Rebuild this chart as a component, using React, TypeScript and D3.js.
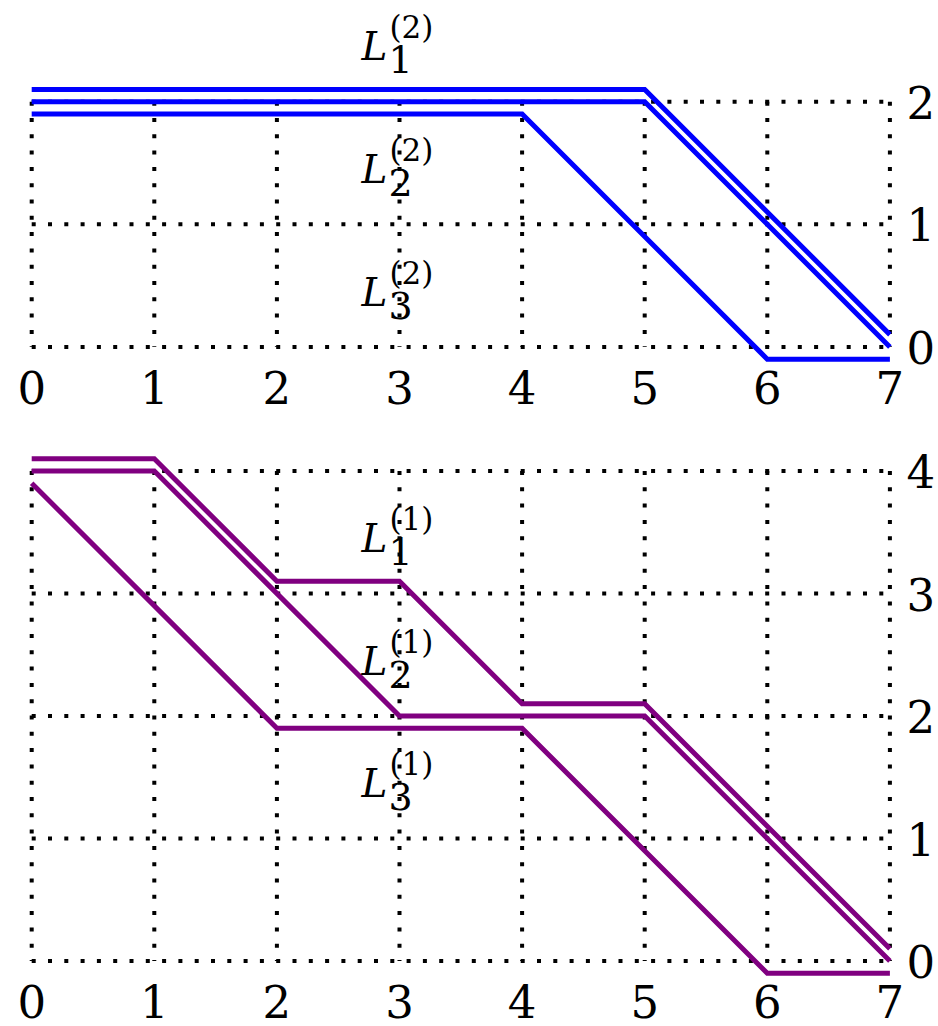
import React from "react";
import * as d3 from "d3";

// Shared horizontal axis
const xTicks = [0, 1, 2, 3, 4, 5, 6, 7];

// Upper panel (level 2 curves)
const topYTicks = [0, 1, 2];
const topL1x = [0, 5, 7];
const topL1y = [2.1, 2.1, 0.1];
const topL2x = [0, 5, 7];
const topL2y = [2, 2, 0];
const topL3x = [0, 4, 6, 7];
const topL3y = [1.9, 1.9, -0.1, -0.1];
const topLabels = [
  { sub: "1", sup: "(2)", x: 3, y: 2.5 },
  { sub: "2", sup: "(2)", x: 3, y: 1.5 },
  { sub: "3", sup: "(2)", x: 3, y: 0.5 },
];

// Lower panel (level 1 curves)
const bottomYTicks = [0, 1, 2, 3, 4];
const botL1x = [0, 1, 2, 3, 4, 5, 7];
const botL1y = [4.1, 4.1, 3.1, 3.1, 2.1, 2.1, 0.1];
const botL2x = [0, 1, 3, 5, 7];
const botL2y = [4, 4, 2, 2, 0];
const botL3x = [0, 2, 4, 6, 7];
const botL3y = [3.9, 1.9, 1.9, -0.1, -0.1];
const bottomLabels = [
  { sub: "1", sup: "(1)", x: 3, y: 3.5 },
  { sub: "2", sup: "(1)", x: 3, y: 2.5 },
  { sub: "3", sup: "(1)", x: 3, y: 1.5 },
];

const FONT = "DejaVu Serif";

type Pt = [number, number];
const zip = (xs: number[], ys: number[]): Pt[] => xs.map((x, i) => [x, ys[i]]);

interface PanelProps {
  y0: number; // pixel of value 0
  unit: number;
  yTicks: number[];
  series: Pt[][];
  labels: { sub: string; sup: string; x: number; y: number }[];
  color: string;
}

const X0 = 31.7;
const UNIT = 122.6;

function Panel({ y0, unit, yTicks, series, labels, color }: PanelProps) {
  const x = d3.scaleLinear().domain([0, 7]).range([X0, X0 + 7 * UNIT]);
  const yMax = d3.max(yTicks) as number;
  const y = d3.scaleLinear().domain([0, yMax]).range([y0, y0 - yMax * unit]);
  const line = d3
    .line<Pt>()
    .x((d) => x(d[0]))
    .y((d) => y(d[1]));
  const dotted = { stroke: "#000", strokeWidth: 4, strokeDasharray: "4 12.3", fill: "none" };
  return (
    <g>
      {yTicks.map((t) => (
        <line key={"h" + t} x1={x(0)} x2={x(7)} y1={y(t)} y2={y(t)} {...dotted} />
      ))}
      {xTicks.map((t) => (
        <line key={"v" + t} x1={x(t)} x2={x(t)} y1={y(yMax)} y2={y(0)} {...dotted} />
      ))}
      {series.map((s, i) => (
        <path key={"s" + i} d={line(s) || ""} fill="none" stroke={color} strokeWidth={5} />
      ))}
      {xTicks.map((t) => (
        <text key={"xt" + t} x={x(t)} y={y(0) + 57} textAnchor="middle" fontSize={45} fontFamily={FONT}>
          {t}
        </text>
      ))}
      {yTicks.map((t) => (
        <text key={"yt" + t} x={x(7) + 31} y={y(t) + 17} textAnchor="middle" fontSize={45} fontFamily={FONT}>
          {t}
        </text>
      ))}
      {labels.map((l, i) => {
        const cx = x(l.x);
        const cy = y(l.y);
        return (
          <g key={"lab" + i} fontFamily={FONT}>
            <text x={cx - 38} y={cy + 20} fontSize={39} fontStyle="italic">
              L
            </text>
            <text x={cx - 11} y={cy + 33} fontSize={38}>
              {l.sub}
            </text>
            <text x={cx - 10} y={cy - 2} fontSize={31}>
              {l.sup}
            </text>
          </g>
        );
      })}
    </g>
  );
}

export default function App() {
  return (
    <div>
      <style>{`body{margin:0;background:#fff}`}</style>
      <svg width={938} height={1026} style={{ display: "block", background: "#fff" }}>
        <Panel
          y0={346.9}
          unit={122.6}
          yTicks={topYTicks}
          series={[zip(topL1x, topL1y), zip(topL2x, topL2y), zip(topL3x, topL3y)]}
          labels={topLabels}
          color="#0000ff"
        />
        <Panel
          y0={961}
          unit={122.5}
          yTicks={bottomYTicks}
          series={[zip(botL1x, botL1y), zip(botL2x, botL2y), zip(botL3x, botL3y)]}
          labels={bottomLabels}
          color="#800080"
        />
      </svg>
    </div>
  );
}
